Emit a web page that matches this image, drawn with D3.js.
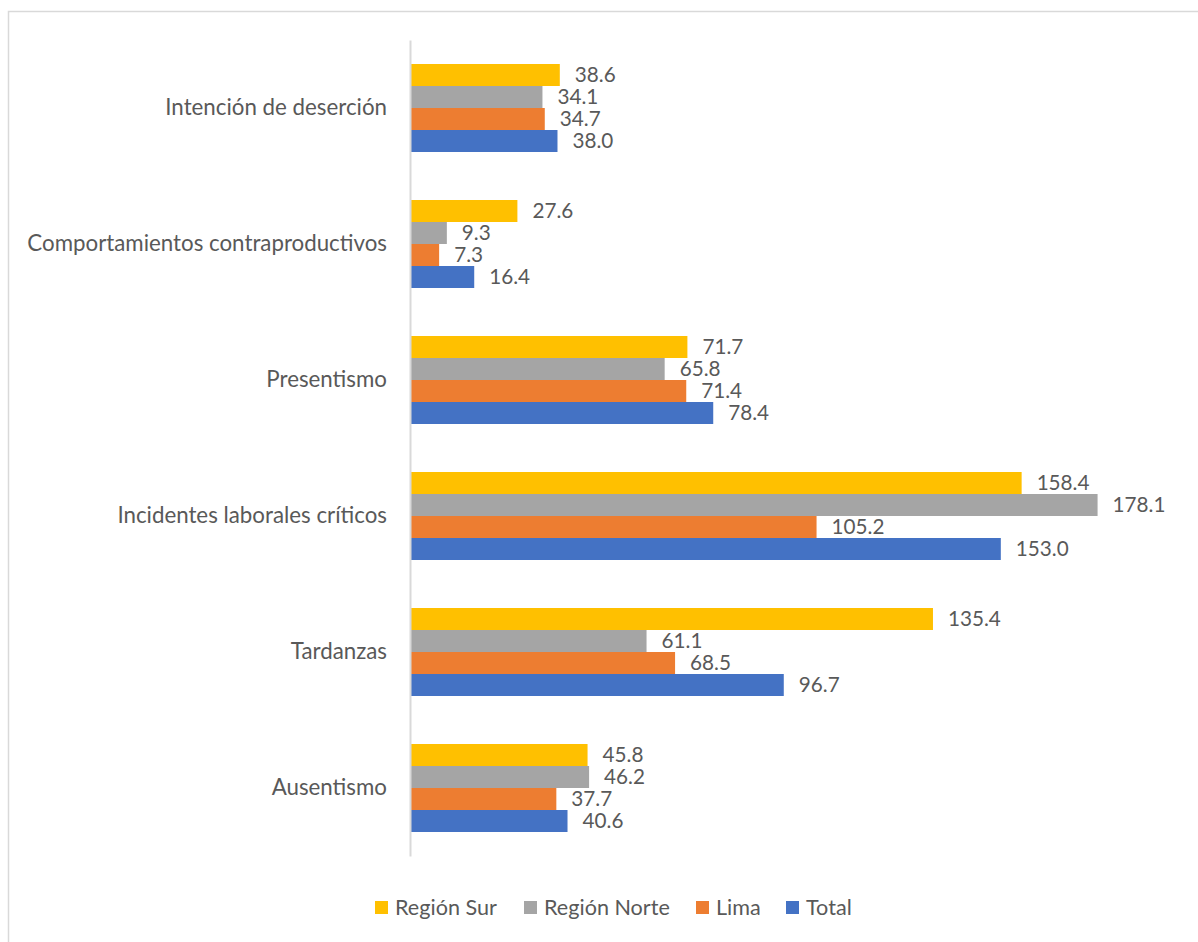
<!DOCTYPE html>
<html>
<head>
<meta charset="utf-8">
<script src="https://cdn.jsdelivr.net/npm/d3@7"></script>
<style>
  html, body { margin: 0; padding: 0; background: #ffffff; }
  svg { display: block; }
  text { font-family: Lato, "Noto Sans", sans-serif; fill: #595959; }
</style>
</head>
<body>
<svg id="chart" width="1198" height="942"></svg>
<script>
// Categories, top to bottom
const categories = [
  "Intención de deserción",
  "Comportamientos contraproductivos",
  "Presentismo",
  "Incidentes laborales críticos",
  "Tardanzas",
  "Ausentismo"
];

// Series names and colours (drawn top to bottom inside each group)
const seriesNames = ["Región Sur", "Región Norte", "Lima", "Total"];
const seriesColors = ["#FFC000", "#A5A5A5", "#ED7D31", "#4472C4"];

// Values per series, in category order
const regionSur   = [38.6, 27.6, 71.7, 158.4, 135.4, 45.8];
const regionNorte = [34.1,  9.3, 65.8, 178.1,  61.1, 46.2];
const lima        = [34.7,  7.3, 71.4, 105.2,  68.5, 37.7];
const total       = [38.0, 16.4, 78.4, 153.0,  96.7, 40.6];

const seriesValues = [regionSur, regionNorte, lima, total];

const svg = d3.select("#chart");

// Outer chart border
svg.append("rect")
  .attr("x", 8.5).attr("y", 11.5)
  .attr("width", 1300).attr("height", 1100)
  .attr("fill", "none")
  .attr("stroke", "#d9d9d9")
  .attr("stroke-width", 1.5);

const x = d3.scaleLinear().domain([0, 200]).range([410, 1181]);

const y = d3.scaleBand()
  .domain(categories)
  .range([40, 856])
  .paddingInner(48 / 136)
  .paddingOuter(24 / 136);

const ySeries = d3.scaleBand()
  .domain(seriesNames)
  .range([0, y.bandwidth()]);

const rows = [];
categories.forEach((c, ci) => {
  seriesNames.forEach((s, si) => {
    rows.push({ category: c, series: s, color: seriesColors[si], value: seriesValues[si][ci] });
  });
});

// Bars
svg.append("g").selectAll("rect")
  .data(rows)
  .join("rect")
  .attr("x", x(0) + 1)
  .attr("y", d => y(d.category) + ySeries(d.series))
  .attr("width", d => x(d.value) - x(0))
  .attr("height", ySeries.bandwidth())
  .attr("fill", d => d.color);

// Value labels
svg.append("g").selectAll("text")
  .data(rows)
  .join("text")
  .attr("x", d => x(d.value) + 16)
  .attr("y", d => y(d.category) + ySeries(d.series) + ySeries.bandwidth() / 2)
  .attr("dy", "0.36em")
  .style("font-size", "20.7px")
  .text(d => d.value.toFixed(1));

// Vertical category axis
const yAxis = d3.axisLeft(y).tickSize(0).tickPadding(23);
const gAxis = svg.append("g")
  .attr("transform", `translate(${x(0)},0)`)
  .call(yAxis);
gAxis.select(".domain")
  .attr("stroke", "#d9d9d9")
  .attr("stroke-width", 2);
gAxis.selectAll(".tick text")
  .style("font-size", "22.3px")
  .attr("fill", "#595959")
  .style("font-family", "Lato, 'Noto Sans', sans-serif");

// Legend
const legendX = [375, 524, 696, 786];
const legend = svg.append("g").selectAll("g")
  .data(seriesNames)
  .join("g")
  .attr("transform", (d, i) => `translate(${legendX[i]},901)`);
legend.append("rect")
  .attr("width", 13).attr("height", 13)
  .attr("fill", (d, i) => seriesColors[i]);
legend.append("text")
  .attr("x", 20)
  .attr("y", 6.5)
  .attr("dy", "0.36em")
  .style("font-size", "21.6px")
  .text(d => d);
</script>
</body>
</html>
